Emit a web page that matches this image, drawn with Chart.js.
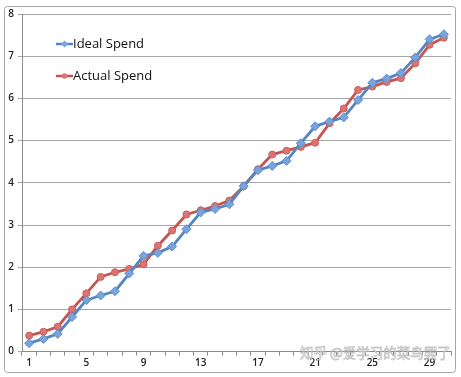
<!DOCTYPE html>
<html lang="en">
<head>
    <meta charset="UTF-8">
    <title>Ideal vs Actual Spend</title>
    <style>
        html, body {
            margin: 0;
            padding: 0;
            background: #fff;
        }
        #chartBox {
            width: 461px;
            height: 377px;
        }
    </style>
    <script src="https://cdn.jsdelivr.net/npm/chart.js"></script>
</head>
<body>
    <div id="chartBox">
        <canvas id="spendChart" width="461" height="377"></canvas>
    </div>

    <script>
        const days = [];
        for (let d = 1; d <= 30; d++) days.push(String(d));

        const idealSpend = [0.20, 0.30, 0.42, 0.82, 1.22, 1.33, 1.43, 1.85, 2.27, 2.34,
                            2.49, 2.90, 3.30, 3.38, 3.49, 3.92, 4.30, 4.40, 4.52, 4.94,
                            5.34, 5.45, 5.55, 5.96, 6.37, 6.47, 6.60, 6.97, 7.40, 7.52];
        const actualSpend = [0.38, 0.47, 0.59, 1.00, 1.38, 1.77, 1.88, 1.96, 2.07, 2.51,
                             2.87, 3.25, 3.35, 3.45, 3.58, 3.92, 4.32, 4.67, 4.76, 4.85,
                             4.95, 5.41, 5.76, 6.20, 6.28, 6.39, 6.48, 6.83, 7.27, 7.44];
        const yTicks = [0, 1, 2, 3, 4, 5, 6, 7, 8];
        const watermark = '知乎 @爱学习的菜鸟罢了';

        const tickFont = { family: 'Open Sans', size: 10, weight: '600' };

        // border around the whole chart, legend inside the plot, watermark
        const decorations = {
            id: 'decorations',
            beforeDraw(chart) {
                const ctx = chart.ctx;
                ctx.save();
                ctx.fillStyle = '#fff';
                ctx.fillRect(0, 0, chart.width, chart.height);
                ctx.strokeStyle = '#a6a6a6';
                ctx.lineWidth = 1;
                ctx.beginPath();
                ctx.roundRect(4.5, 6.5, 451, 366, 3);
                ctx.stroke();
                ctx.restore();
            },
            afterDraw(chart) {
                const ctx = chart.ctx;
                ctx.save();
                const rows = [44, 76];
                chart.data.datasets.forEach((ds, i) => {
                    const y = rows[i];
                    ctx.strokeStyle = ds.borderColor;
                    ctx.lineWidth = 2.5;
                    ctx.beginPath();
                    ctx.moveTo(56, y);
                    ctx.lineTo(73, y);
                    ctx.stroke();
                    ctx.fillStyle = ds.pointBackgroundColor;
                    ctx.beginPath();
                    if (ds.pointStyle === 'rectRot') {
                        ctx.moveTo(64.5, y - 3.5);
                        ctx.lineTo(68, y);
                        ctx.lineTo(64.5, y + 3.5);
                        ctx.lineTo(61, y);
                    } else {
                        ctx.arc(64.5, y, 2.8, 0, Math.PI * 2);
                    }
                    ctx.fill();
                    ctx.fillStyle = '#111';
                    ctx.font = '13px "Open Sans"';
                    ctx.textBaseline = 'middle';
                    ctx.fillText(ds.label, 73, y);
                });

                ctx.font = '13.5px "Noto Sans CJK SC"';
                ctx.textBaseline = 'middle';
                ctx.lineWidth = 0.8;
                ctx.strokeStyle = 'rgba(160,160,160,0.6)';
                ctx.fillStyle = 'rgba(255,255,255,0.8)';
                ctx.fillText(watermark, 300, 353);
                ctx.strokeText(watermark, 300, 353);
                ctx.restore();
            }
        };

        const ctx = document.getElementById('spendChart').getContext('2d');
        new Chart(ctx, {
            type: 'line',
            data: {
                labels: days,
                datasets: [{
                    label: 'Ideal Spend',
                    data: idealSpend,
                    borderColor: '#5585c2',
                    backgroundColor: '#5585c2',
                    pointBackgroundColor: '#78a4db',
                    pointBorderColor: '#5e8fcd',
                    pointStyle: 'rectRot',
                    pointRadius: 4.5,
                    pointBorderWidth: 1,
                    borderWidth: 2.8,
                    tension: 0
                }, {
                    label: 'Actual Spend',
                    data: actualSpend,
                    borderColor: '#c45552',
                    backgroundColor: '#c45552',
                    pointBackgroundColor: '#db7572',
                    pointBorderColor: '#cb5f5c',
                    pointStyle: 'circle',
                    pointRadius: 3.5,
                    pointBorderWidth: 1,
                    borderWidth: 2.8,
                    tension: 0
                }]
            },
            options: {
                responsive: false,
                animation: false,
                layout: {
                    padding: { left: 0, right: 10, top: 14, bottom: 0 }
                },
                plugins: {
                    legend: { display: false },
                    tooltip: { enabled: false }
                },
                scales: {
                    x: {
                        offset: true,
                        grid: {
                            offset: true,
                            drawOnChartArea: false,
                            drawTicks: true,
                            tickLength: 4,
                            color: '#8c8c8c'
                        },
                        border: { color: '#8c8c8c', width: 1 },
                        ticks: {
                            autoSkip: false,
                            maxRotation: 0,
                            color: '#222',
                            font: tickFont,
                            padding: 2,
                            callback: (v, i) => (i % 4 === 0 ? days[i] : '')
                        },
                        afterFit: (scale) => { scale.height = 25.4; }
                    },
                    y: {
                        min: 0,
                        max: 8,
                        afterBuildTicks: (scale) => {
                            scale.ticks = yTicks.map(v => ({ value: v }));
                        },
                        grid: {
                            color: '#a6a6a6',
                            tickLength: 4,
                            lineWidth: 1
                        },
                        border: { color: '#8c8c8c', width: 1 },
                        ticks: {
                            color: '#222',
                            font: tickFont,
                            padding: 4
                        },
                        afterFit: (scale) => { scale.width = 22; }
                    }
                }
            },
            plugins: [decorations]
        });
    </script>
</body>
</html>
